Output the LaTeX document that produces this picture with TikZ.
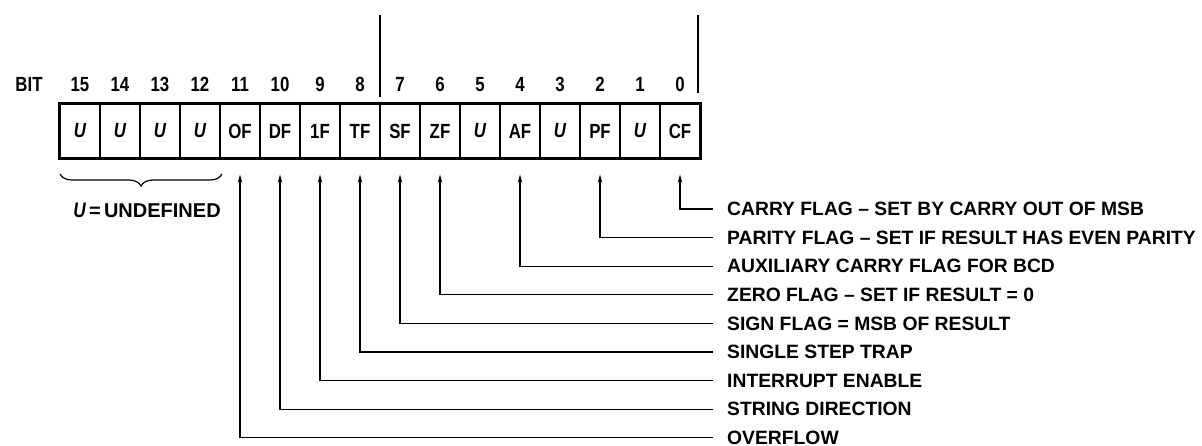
\documentclass[tikz,border=0pt]{standalone}
\usepackage{fontspec}
\setmainfont{Liberation Sans}
\newfontfamily\labfont{Liberation Sans Bold}
\newfontfamily\narrowfont{Liberation Sans Bold}[FakeStretch=0.82]
\newfontfamily\narrowit{Liberation Sans Bold Italic}[FakeStretch=0.82]
\usetikzlibrary{arrows.meta,decorations.pathreplacing}
\begin{document}
\begin{tikzpicture}[x=1pt,y=-1pt,
  cell/.style={draw,line width=1.2pt,minimum width=40pt,minimum height=54pt,inner sep=0pt,
    font=\narrowfont\fontsize{20.5}{21}\selectfont},
  bitnum/.style={inner sep=0pt,anchor=base,font=\narrowfont\fontsize{20.5}{21}\selectfont},
  lab/.style={anchor=west,inner sep=0pt,font=\labfont\fontsize{19.3}{20}\selectfont},
  conn/.style={line width=1.3pt,shorten <=14pt,shorten >=16pt,-{Stealth[length=8pt,width=4.5pt]}}]
\useasboundingbox (0,0) rectangle (1202,446);
% register cells
\foreach \b/\t in {15/{\narrowit U},14/{\narrowit U},13/{\narrowit U},12/{\narrowit U},
  11/OF,10/DF,9/1F,8/TF,7/SF,6/ZF,5/{\narrowit U},4/AF,3/{\narrowit U},2/PF,1/{\narrowit U},0/CF}{
  \node[cell] (c\b) at ({80+40*(15-\b)},131) {\t};
  \node[bitnum] (n\b) at ({80+40*(15-\b)},91.5) {\b};
}
\draw[line width=3.2pt] (c15.north west) rectangle (c0.south east);
\node[bitnum] (bit) at (29,91.5) {BIT};
% byte marks
\coordinate (m1a) at (380,15); \coordinate (m1b) at (380,97);
\coordinate (m2a) at (698,15); \coordinate (m2b) at (698,93);
\draw[line width=1.3pt] (m1a) -- (m1b);
\draw[line width=1.3pt] (m2a) -- (m2b);
% brace
\coordinate (br1) at (222,174); \coordinate (br2) at (60,174);
\draw[line width=1.2pt,decorate,decoration={brace,amplitude=12pt}] (br1) -- (br2);
\node[inner sep=0pt,font=\labfont\fontsize{20}{20}\selectfont] (undef) at (147,210) {{\narrowit\fontsize{21}{21}\selectfont U}\,=\,UNDEFINED};
% labels
\node[lab] (lCF) at (727,209) {CARRY FLAG – SET BY CARRY OUT OF MSB};
\node[lab] (lPF) at (727,237.6) {PARITY FLAG – SET IF RESULT HAS EVEN PARITY};
\node[lab] (lAF) at (727,266.2) {AUXILIARY CARRY FLAG FOR BCD};
\node[lab] (lZF) at (727,294.8) {ZERO FLAG – SET IF RESULT = 0};
\node[lab] (lSF) at (727,323.4) {SIGN FLAG = MSB OF RESULT};
\node[lab] (lTF) at (727,352) {SINGLE STEP TRAP};
\node[lab] (lIF) at (727,380.6) {INTERRUPT ENABLE};
\node[lab] (lDF) at (727,409.2) {STRING DIRECTION};
\node[lab] (lOF) at (727,437.4) {OVERFLOW};
% connectors
\draw[conn] (lCF.west) -| (c0.south);
\draw[conn] (lPF.west) -| (c2.south);
\draw[conn] (lAF.west) -| (c4.south);
\draw[conn] (lZF.west) -| (c6.south);
\draw[conn] (lSF.west) -| (c7.south);
\draw[conn] (lTF.west) -| (c8.south);
\draw[conn] (lIF.west) -| (c9.south);
\draw[conn] (lDF.west) -| (c10.south);
\draw[conn] (lOF.west) -| (c11.south);
\end{tikzpicture}
\end{document}
